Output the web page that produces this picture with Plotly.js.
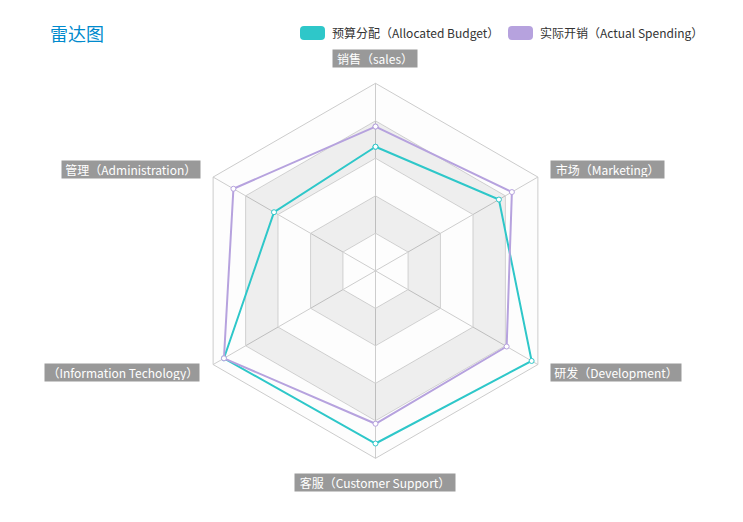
<!DOCTYPE html>
<html>
<head>
<meta charset="utf-8">
<script src="https://cdn.plot.ly/plotly-3.0.1.min.js"></script>
<style>
  html, body { margin: 0; padding: 0; background: #fff; }
  #chart { width: 743px; height: 522px; }
</style>
</head>
<body>
<div id="chart"></div>
<script>
// ---- data ----
const categories = ['销售（sales）', '管理（Administration）', '（Information Techology）', '客服（Customer Support）', '研发（Development）', '市场（Marketing）'];
const indicatorMax = [6500, 16000, 30000, 38000, 52000, 25000];
const budget = [4300, 10000, 28000, 35000, 50000, 19000];
const spending = [5000, 14000, 28000, 31000, 42000, 21000];
const seriesNames = ['预算分配（Allocated Budget）', '实际开销（Actual Spending）'];
const seriesColors = ['#2ec7c9', '#b6a2de'];
const splitLevels = [0, 20, 40, 60, 80, 100];
const titleText = '雷达图';

// ---- layout helpers ----
const W = 743, H = 522;
const px = x => x / W;
const py = y => 1 - y / H;
const cx = 375.5, cy = 270.8, R = 187.5;
const FONT = '"Noto Sans CJK SC", "Noto Sans", sans-serif';

const traces = [];

// split-area rings (alternating)
const ringColors = ['rgba(250,250,250,0.3)', 'rgba(200,200,200,0.3)'];
for (let i = 1; i < splitLevels.length; i++) {
  const inner = splitLevels[i - 1], outer = splitLevels[i];
  const th = [], rr = [];
  for (let k = 0; k <= categories.length; k++) { th.push(categories[k % categories.length]); rr.push(outer); }
  if (inner > 0) {
    for (let k = categories.length; k >= 0; k--) { th.push(categories[k % categories.length]); rr.push(inner); }
  }
  traces.push({
    type: 'scatterpolar', mode: 'lines', theta: th, r: rr,
    fill: 'toself', fillcolor: ringColors[(i - 1) % 2],
    line: { width: 0, color: 'rgba(0,0,0,0)' },
    hoverinfo: 'skip', showlegend: false
  });
}

// data series
[budget, spending].forEach((vals, s) => {
  const r = vals.map((v, i) => v / indicatorMax[i] * 100);
  traces.push({
    type: 'scatterpolar', mode: 'lines+markers', name: seriesNames[s],
    theta: categories.concat([categories[0]]), r: r.concat([r[0]]),
    line: { color: seriesColors[s], width: 2 },
    marker: { symbol: 'circle', size: 5, color: '#fff', line: { color: seriesColors[s], width: 1 } },
    hoverinfo: 'skip', showlegend: false
  });
});

// axis name labels (grey boxes)
const labelBoxes = [
  [333, 417, 59], [61.7, 199.3, 169.5], [45, 199.3, 372], [295, 455, 482.3], [550.7, 680.7, 372], [550.7, 664, 169.5]
];
const annotations = categories.map((c, i) => {
  const b = labelBoxes[i];
  return {
    xref: 'paper', yref: 'paper', x: px((b[0] + b[1]) / 2), y: py(b[2]),
    xanchor: 'center', yanchor: 'middle', text: c, showarrow: false,
    bgcolor: '#999', borderpad: 1, width: b[1] - b[0] - 2, height: 15,
    align: i === 2 ? 'right' : 'center',
    font: { family: FONT, size: 12, color: '#fff' }
  };
});

// custom legend
function roundRect(x0, y0, x1, y1, r) {
  const p = (x, y) => px(x) + ',' + py(y);
  return 'M' + p(x0 + r, y0) + ' L' + p(x1 - r, y0) + ' Q' + p(x1, y0) + ' ' + p(x1, y0 + r) +
    ' L' + p(x1, y1 - r) + ' Q' + p(x1, y1) + ' ' + p(x1 - r, y1) +
    ' L' + p(x0 + r, y1) + ' Q' + p(x0, y1) + ' ' + p(x0, y1 - r) +
    ' L' + p(x0, y0 + r) + ' Q' + p(x0, y0) + ' ' + p(x0 + r, y0) + ' Z';
}
const legendX = [300, 508];
const shapes = [];
seriesNames.forEach((n, s) => {
  shapes.push({ type: 'path', xref: 'paper', yref: 'paper', path: roundRect(legendX[s], 26, legendX[s] + 25, 40, 4),
    fillcolor: seriesColors[s], line: { width: 0 } });
  annotations.push({
    xref: 'paper', yref: 'paper', x: px(legendX[s] + 30), y: py(33), xanchor: 'left', yanchor: 'middle',
    text: n, showarrow: false, font: { family: FONT, size: 12, color: '#333' }
  });
});

const layout = {
  width: W, height: H,
  margin: { l: 0, r: 0, t: 0, b: 0 },
  paper_bgcolor: '#fff',
  showlegend: false,
  title: { text: titleText, x: px(50), xanchor: 'left', xref: 'paper', y: py(35), yref: 'paper', yanchor: 'middle',
    font: { family: FONT, size: 18, color: '#008acd' } },
  polar: {
    domain: { x: [px(cx - R), px(cx + R)], y: [1 - (cy + R) / H, 1 - (cy - R) / H] },
    bgcolor: 'rgba(0,0,0,0)',
    gridshape: 'linear',
    radialaxis: { range: [0, 100], tickvals: splitLevels.slice(1), showticklabels: false, ticks: '',
      showline: false, gridcolor: '#ccc', gridwidth: 1 },
    angularaxis: { type: 'category', categoryarray: categories, rotation: 90, direction: 'counterclockwise',
      showticklabels: false, ticks: '', showline: true, linecolor: '#ccc', linewidth: 1,
      gridcolor: '#bbb', gridwidth: 1 }
  },
  annotations: annotations,
  shapes: shapes
};

Plotly.newPlot('chart', traces, layout, { displayModeBar: false, staticPlot: true });
</script>
</body>
</html>
